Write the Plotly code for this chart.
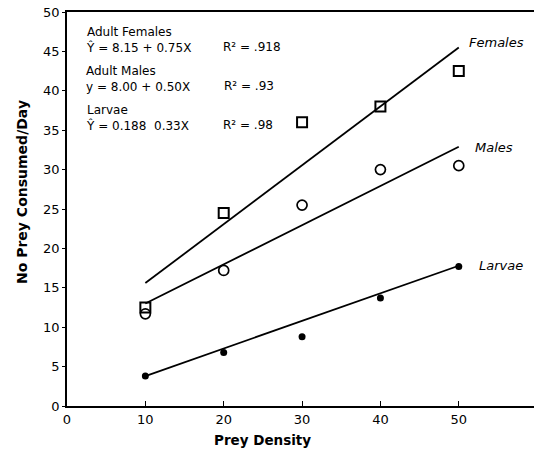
import plotly.graph_objects as go

prey_density = [10, 20, 30, 40, 50]
females = [12.5, 24.5, 36.0, 38.0, 42.5]
males = [11.7, 17.2, 25.5, 30.0, 30.5]
larvae = [3.8, 6.8, 8.8, 13.7, 17.7]

fit_x = [10, 50]
females_fit = [15.6, 45.5]
males_fit = [13.0, 32.9]
larvae_fit = [3.8, 17.8]

x_ticks = [0, 10, 20, 30, 40, 50]
y_ticks = [0, 5, 10, 15, 20, 25, 30, 35, 40, 45, 50]

FONT = "DejaVu Sans, Arial, sans-serif"

W, H = 534, 452
ML, MR, MT, MB = 67, 0, 12, 46
PW, PH = W - ML - MR, H - MT - MB

fig = go.Figure()
for fy in (females_fit, males_fit, larvae_fit):
    fig.add_trace(go.Scatter(x=fit_x, y=fy, mode="lines",
                             line=dict(color="black", width=1.8), showlegend=False))
fig.add_trace(go.Scatter(x=prey_density, y=females, mode="markers",
                         marker=dict(symbol="square-open", size=10, color="black", line=dict(width=2)),
                         showlegend=False))
fig.add_trace(go.Scatter(x=prey_density, y=males, mode="markers",
                         marker=dict(symbol="circle-open", size=10, color="black", line=dict(width=1.7)),
                         showlegend=False))
fig.add_trace(go.Scatter(x=prey_density, y=larvae, mode="markers",
                         marker=dict(symbol="circle", size=7, color="black"),
                         showlegend=False))

ann = []
def txt(xp, yp, s, size=12.5, italic=False, bold=False, xanchor="left", **kw):
    if italic:
        s = "<i>" + s + "</i>"
    if bold:
        s = "<b>" + s + "</b>"
    ann.append(dict(x=(xp - ML) / PW, y=(H - MB - yp) / PH, xref="paper", yref="paper",
                    text=s, showarrow=False, xanchor=xanchor, yanchor="middle", align="left",
                    font=dict(family=FONT, size=size, color="black"), **kw))

blocks = [
    (84, 40, "Adult Females<br>Ŷ = 8.15 + 0.75X"),
    (84, 79, "Adult Males<br>y = 8.00 + 0.50X"),
    (84, 118, "Larvae<br>Ŷ = 0.188  0.33X"),
]
for xp, yp, s in blocks:
    txt(xp, yp, s, size=12)
for xp, yp, s in [(221, 47, "R² = .918"), (222, 86, "R² = .93"), (221, 125, "R² = .98")]:
    txt(xp, yp, s, size=12)

for xp, yp, s in [(467, 42, "Females"), (473, 147, "Males"), (477, 265, "Larvae")]:
    txt(xp, yp, s, size=13, italic=True)

txt(262, 440, "Prey Density", size=13.5, bold=True, xanchor="center")
txt(22, 192, "No Prey Consumed/Day", size=14, bold=True, xanchor="center", textangle=-90)

fig.update_layout(
    width=W, height=H,
    margin=dict(l=ML, r=MR, t=MT, b=MB, autoexpand=False),
    paper_bgcolor="white", plot_bgcolor="white",
    font=dict(family=FONT, size=13, color="black"),
    annotations=ann,
    xaxis=dict(range=[0, 59.6], tickvals=x_ticks, ticks="inside", ticklen=5, tickwidth=1.3,
               tickcolor="black", showline=True, linecolor="black", linewidth=1.8,
               mirror=True, showgrid=False, zeroline=False,
               tickfont=dict(family=FONT, size=13, color="black")),
    yaxis=dict(range=[0, 50], tickvals=y_ticks, ticks="outside", ticklen=3, tickwidth=1,
               tickcolor="black", showline=True, linecolor="black", linewidth=1.8,
               showgrid=False, zeroline=False,
               tickfont=dict(family=FONT, size=13, color="black")),
)

# remove the browser's default page margin so the figure fills the window exactly
fig.write_html("out.html", config={"displayModeBar": False},
               post_script="document.body.style.margin='0';")
